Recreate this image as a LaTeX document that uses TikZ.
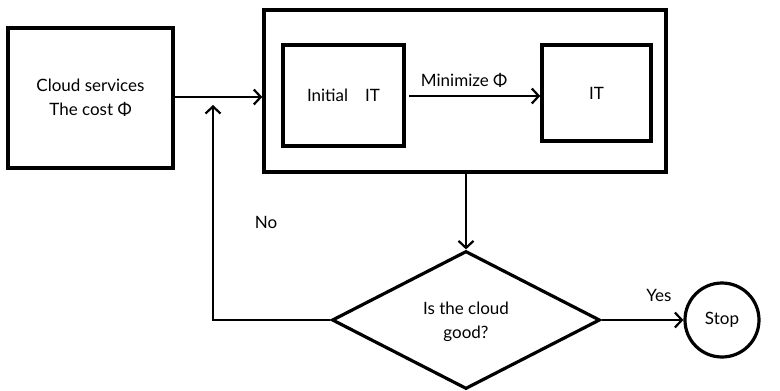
\documentclass[tikz,border=0pt]{standalone}
\usepackage{fontspec}
\setmainfont{Lato}
\usetikzlibrary{arrows.meta,shapes.geometric}
\begin{document}
\begin{tikzpicture}[x=1pt,y=-1pt,
  box/.style={draw,line width=3.4pt,inner sep=0pt},
  conn/.style={line width=1.4pt,-{Straight Barb[length=7pt,width=15pt,line width=2.2pt]}},
  lbl/.style={font=\fontsize{17}{24}\selectfont,align=center}]
\useasboundingbox (0,0) rectangle (780,391);
\node[box,minimum width=165pt,minimum height=140pt] (cs) at (90.5,98) {};
\node[lbl] at (cs.center) {Cloud services\\The cost Φ};
\node[box,minimum width=402pt,minimum height=162pt] (outer) at (465,91) {};
\node[box,minimum width=121pt,minimum height=101pt] (init) at (343.5,95.5) {};
\node[lbl] at (init.center) {Initial\quad IT};
\node[box,minimum width=109pt,minimum height=96pt] (it) at (596.5,93) {};
\node[lbl] at (it.center) {IT};
\node[draw,line width=3.2pt,diamond,aspect=2,minimum width=268pt,minimum height=138pt,inner sep=0pt] (dec) at (466,320) {};
\node[lbl,align=center] at ([yshift=-2pt]dec.center) {Is the cloud\\good?};
\node[draw,line width=3.2pt,circle,minimum size=74pt,inner sep=0pt] (stop) at (722,320) {};
\node[lbl] at (stop.center) {Stop};
\coordinate (fb) at (213,320);
\coordinate (fbt) at (213,105);
\coordinate (m1) at (409,96);
\draw[conn] (cs.east |- 0,97) -- (outer.west |- 0,97);
\draw[conn] (m1) -- node[lbl,above=4pt,pos=0.42] {Minimize Φ} (it.west |- m1);
\draw[conn] (outer.south -| dec.north) -- (dec.north);
\draw[conn] (dec.east) -- node[lbl,above=14pt,pos=0.7] {Yes} (stop.west);
\draw[conn] (dec.west) -- (fb) -- (fbt);
\node[lbl] at (266,222) {No};
\end{tikzpicture}
\end{document}
